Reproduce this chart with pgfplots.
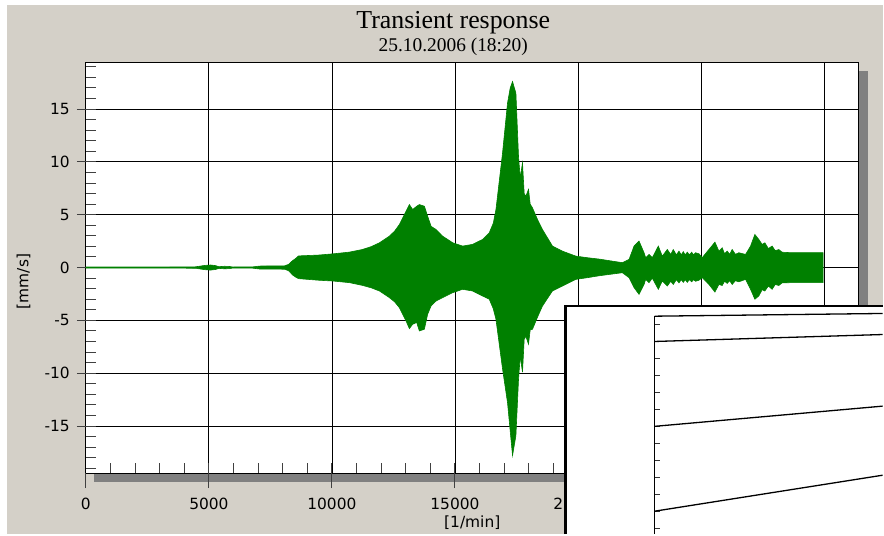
\documentclass[border=0pt]{standalone}
\usepackage{fontspec}
\setmainfont{DejaVu Sans}
\newfontfamily\seriffont{Liberation Serif}
\usepackage{pgfplots}
\usepackage{pgfplotstable}
\pgfplotsset{compat=1.18}
\definecolor{panel}{HTML}{D4D0C8}
\definecolor{sig}{HTML}{008000}
\definecolor{shadow}{HTML}{808080}

\pgfplotstableread{
x up lo
0 0.05 -0.05
3368 0.05 -0.05
4464 0.07 -0.07
4545 0.1 -0.1
4830 0.2 -0.2
5073 0.24 -0.24
5276 0.18 -0.18
5398 0.08 -0.08
5641 0.12 -0.12
5844 0.1 -0.1
5966 0.05 -0.05
6778 0.06 -0.06
7062 0.14 -0.14
8076 0.16 -0.16
8239 0.3 -0.3
8401 0.65 -0.7
8523 0.85 -0.9
8644 1.1 -1.05
9456 1.18 -1.2
10065 1.3 -1.28
10714 1.46 -1.43
11242 1.71 -1.69
11600 1.98 -1.92
11932 2.34 -2.22
12338 2.97 -2.85
12550 3.45 -3.25
12743 4.07 -3.8
13015 5.33 -5.06
13149 5.96 -5.78
13283 5.49 -5.37
13446 5.8 -5.2
13555 5.96 -6.0
13758 5.8 -5.84
13892 4.86 -4.42
14030 3.9 -3.64
14233 3.6 -3.17
14501 2.97 -2.85
14907 2.35 -2.38
15312 2.03 -2.06
15718 2.19 -2.22
16124 2.66 -2.69
16396 3.29 -3.0
16560 4.2 -3.9
16668 5.49 -4.9
16936 10.84 -9.6
17139 15.57 -12.8
17248 17.0 -15.5
17342 17.6 -17.8
17479 16.5 -15.9
17585 10.5 -10.6
17654 8.5 -8.4
17747 9.9 -9.9
17816 7.0 -6.8
17885 6.75 -6.5
17991 7.4 -7.26
18060 6.0 -5.9
18153 5.65 -5.84
18356 4.55 -4.7
18559 3.6 -3.64
18965 2.03 -2.22
19371 1.55 -1.75
19915 1.08 -1.12
20385 0.93 -0.96
20860 0.8 -0.78
21806 0.46 -0.49
22078 0.77 -0.96
22281 2.03 -1.9
22484 2.5 -2.54
22687 1.4 -1.6
22755 0.93 -1.12
22889 1.24 -1.43
23023 0.93 -1.0
23267 2.03 -2.06
23430 1.08 -1.27
23632 1.71 -1.75
23770 1.24 -1.3
23876 1.7 -1.6
24000 1.2 -1.15
24107 1.55 -1.45
24200 1.2 -1.15
24282 1.5 -1.4
24360 1.2 -1.15
24445 1.45 -1.4
24530 1.2 -1.15
24623 1.45 -1.35
24700 1.2 -1.15
24785 1.4 -1.3
24919 1.3 -1.2
25052 0.93 -0.96
25324 1.71 -1.6
25568 2.4 -2.32
25730 1.55 -1.6
25864 1.87 -1.7
25960 1.3 -1.3
26067 1.55 -1.5
26170 1.25 -1.25
26270 1.71 -1.6
26400 1.25 -1.25
26542 1.4 -1.35
26813 1.24 -1.12
27016 2.03 -2.06
27191 3.13 -3.0
27353 2.66 -2.69
27487 2.19 -2.1
27597 2.34 -2.22
27740 1.8 -1.75
27893 2.03 -2.06
28020 1.6 -1.6
28165 1.7 -1.7
28300 1.45 -1.45
28705 1.4 -1.43
29963 1.4 -1.43
}\sigdata

\begin{document}
\begin{tikzpicture}[x=1bp,y=1bp]
\fill[white] (0,0) rectangle (884,535);
\fill[panel] (7,0) rectangle (884,530);
\fill[shadow] (860,52) rectangle (869,464);
\fill[shadow] (94,52) rectangle (869,61);
\node[font=\seriffont\fontsize{26}{28}\selectfont, anchor=base, inner sep=0pt] at (454,506) {Transient response};
\node[font=\seriffont\fontsize{19.5}{22}\selectfont, anchor=base, inner sep=0pt] at (454,483) {25.10.2006 (18:20)};
\node[font=\fontsize{15.5}{18}\selectfont, rotate=90, inner sep=0pt] at (23.5,253) {[mm/s]};
\node[font=\fontsize{15.5}{18}\selectfont, inner sep=0pt] at (473,11.7) {[1/min]};
\begin{axis}[
  at={(86bp,61bp)}, anchor=south west, scale only axis,
  width=774bp, height=411bp,
  xmin=0, xmax=31410, ymin=-19.47, ymax=19.37,
  scaled x ticks=false, scaled y ticks=false,
  axis background/.style={fill=white},
  axis line style={black, line width=1bp},
  grid=major, major grid style={black, line width=0.8bp},
  tick pos=left,
  xtick={0,5000,...,30000},
  xticklabels={0,5000,10000,15000,20000,25000,30000},
  ytick={-15,-10,...,15},
  yticklabels={-15,-10,-5,0,5,10,15},
  tick align=inside, major tick length=0.1pt,
  minor xtick={1000,2000,...,31000},
  minor ytick={-19,-18,...,19},
  minor tick length=10bp,
  tick style={black!75, line width=1bp},
  extra x ticks={0,5000,...,30000}, extra x tick labels={},
  extra x tick style={tick align=outside, major tick length=15bp, grid=none},
  extra y ticks={-15,-10,...,15}, extra y tick labels={},
  extra y tick style={tick align=outside, major tick length=9bp, grid=none},
  /pgf/number format/assume math mode=true,
  xticklabel style={font=\fontsize{15.5}{18}\selectfont, anchor=base, yshift=-36.7bp},
  yticklabel style={font=\fontsize{15.5}{18}\selectfont, anchor=east, inner sep=0pt, xshift=-16bp},
]
\addplot[sig, fill=sig, line width=0.6bp] table[x=x, y=up] {\sigdata} \closedcycle;
\addplot[sig, fill=sig, line width=0.6bp] table[x=x, y=lo] {\sigdata} \closedcycle;
\end{axis}
\fill[white] (566.2,0) rectangle (884,228.5);
\draw[black, line width=2.8bp] (566.2,0) -- (566.2,228.5) -- (884,228.5);
\begin{axis}[
  at={(655.7bp,0bp)}, anchor=south west, scale only axis,
  width=228.3bp, height=218.3bp,
  xmin=0, xmax=228.3, ymin=-0.353, ymax=12.49,
  scaled x ticks=false, scaled y ticks=false,
  axis y line*=left, axis x line=none,
  axis line style={black, line width=1.2bp},
  ytick={0,1,...,12}, yticklabels={}, xtick=\empty,
  tick align=inside, major tick length=5bp,
  tick style={black!80, line width=1.2bp},
  clip=false,
]
\addplot[black, line width=1.3bp] coordinates {(0,12.49) (228.3,12.65)};
\addplot[black, line width=1.3bp] coordinates {(0,11) (228.3,11.41)};
\addplot[black, line width=1.3bp] coordinates {(0,6) (228.3,7.19)};
\addplot[black, line width=1.3bp] coordinates {(0,1) (228.3,3.12)};
\end{axis}
\end{tikzpicture}
\end{document}
